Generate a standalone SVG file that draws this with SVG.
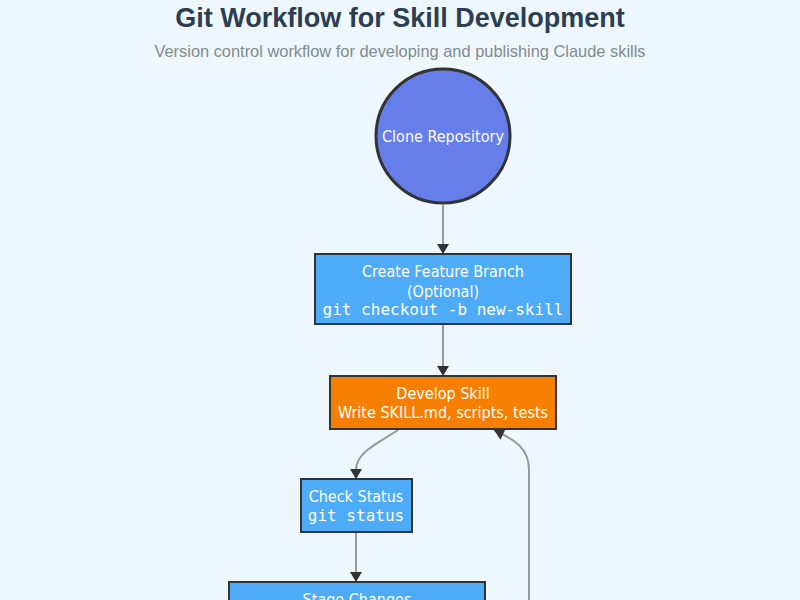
<svg xmlns="http://www.w3.org/2000/svg" width="800" height="600" viewBox="0 0 800 600">
<defs>
<marker id="arr" viewBox="0 0 10 12" refX="10" refY="6" markerWidth="10" markerHeight="12" orient="auto" markerUnits="userSpaceOnUse" style="overflow:visible">
<path d="M0,0 L10,6 L0,12 z" fill="#333"/>
</marker>
<style>
.title{font-family:"Liberation Sans",Arial,sans-serif;font-weight:bold;font-size:27px;fill:#2c3e50;text-anchor:middle}
.sub{font-family:"Liberation Sans",Arial,sans-serif;font-size:16.4px;fill:#7f8c8d;text-anchor:middle}
.t{font-family:"DejaVu Sans Condensed","DejaVu Sans",sans-serif;font-stretch:condensed;font-size:16px;fill:#fff;text-anchor:middle}
.m{font-family:"DejaVu Sans Mono",monospace;font-size:16px;fill:#fff;text-anchor:middle}
.blue{fill:#4dabf7;stroke:#333;stroke-width:2}
.orange{fill:#f77f00;stroke:#333;stroke-width:2}
.edge{fill:none;stroke:#999;stroke-width:2}
</style>
</defs>
<rect width="800" height="600" fill="#eff7fe"/>
<text class="title" x="400" y="27">Git Workflow for Skill Development</text>
<text class="sub" x="400" y="57">Version control workflow for developing and publishing Claude skills</text>
<g id="connectors">
<path class="edge" d="M443,205 L443,254" marker-end="url(#arr)"/>
<path class="edge" d="M443,325 L443,376" marker-end="url(#arr)"/>
<path class="edge" d="M398,430 C380,442 356,452 356,470 L356,479" marker-end="url(#arr)"/>
<path class="edge" d="M356,533 L356,582" marker-end="url(#arr)"/>
<path class="edge" d="M529,600 L529,470 C529,448 515,440 494,430" marker-end="url(#arr)"/>
</g>
<g id="clone">
<circle cx="443" cy="136" r="67" fill="#667eea" stroke="#333" stroke-width="3"/>
<text class="t" x="443" y="142">Clone Repository</text>
</g>
<g id="branch">
<rect class="blue" x="315" y="254" width="256" height="70"/>
<text class="t" x="443" y="277">Create Feature Branch</text>
<text class="t" x="443" y="297">(Optional)</text>
<text class="m" x="443" y="315">git checkout -b new-skill</text>
</g>
<g id="develop">
<rect class="orange" x="330" y="376" width="226" height="53"/>
<text class="t" x="443" y="399">Develop Skill</text>
<text class="t" x="443" y="418">Write SKILL.md, scripts, tests</text>
</g>
<g id="status">
<rect class="blue" x="301" y="479" width="111" height="53"/>
<text class="t" x="356" y="502">Check Status</text>
<text class="m" x="356" y="521">git status</text>
</g>
<g id="stage">
<rect class="blue" x="229" y="582" width="256" height="40"/>
<text class="t" x="357" y="605">Stage Changes</text>
</g>
</svg>
